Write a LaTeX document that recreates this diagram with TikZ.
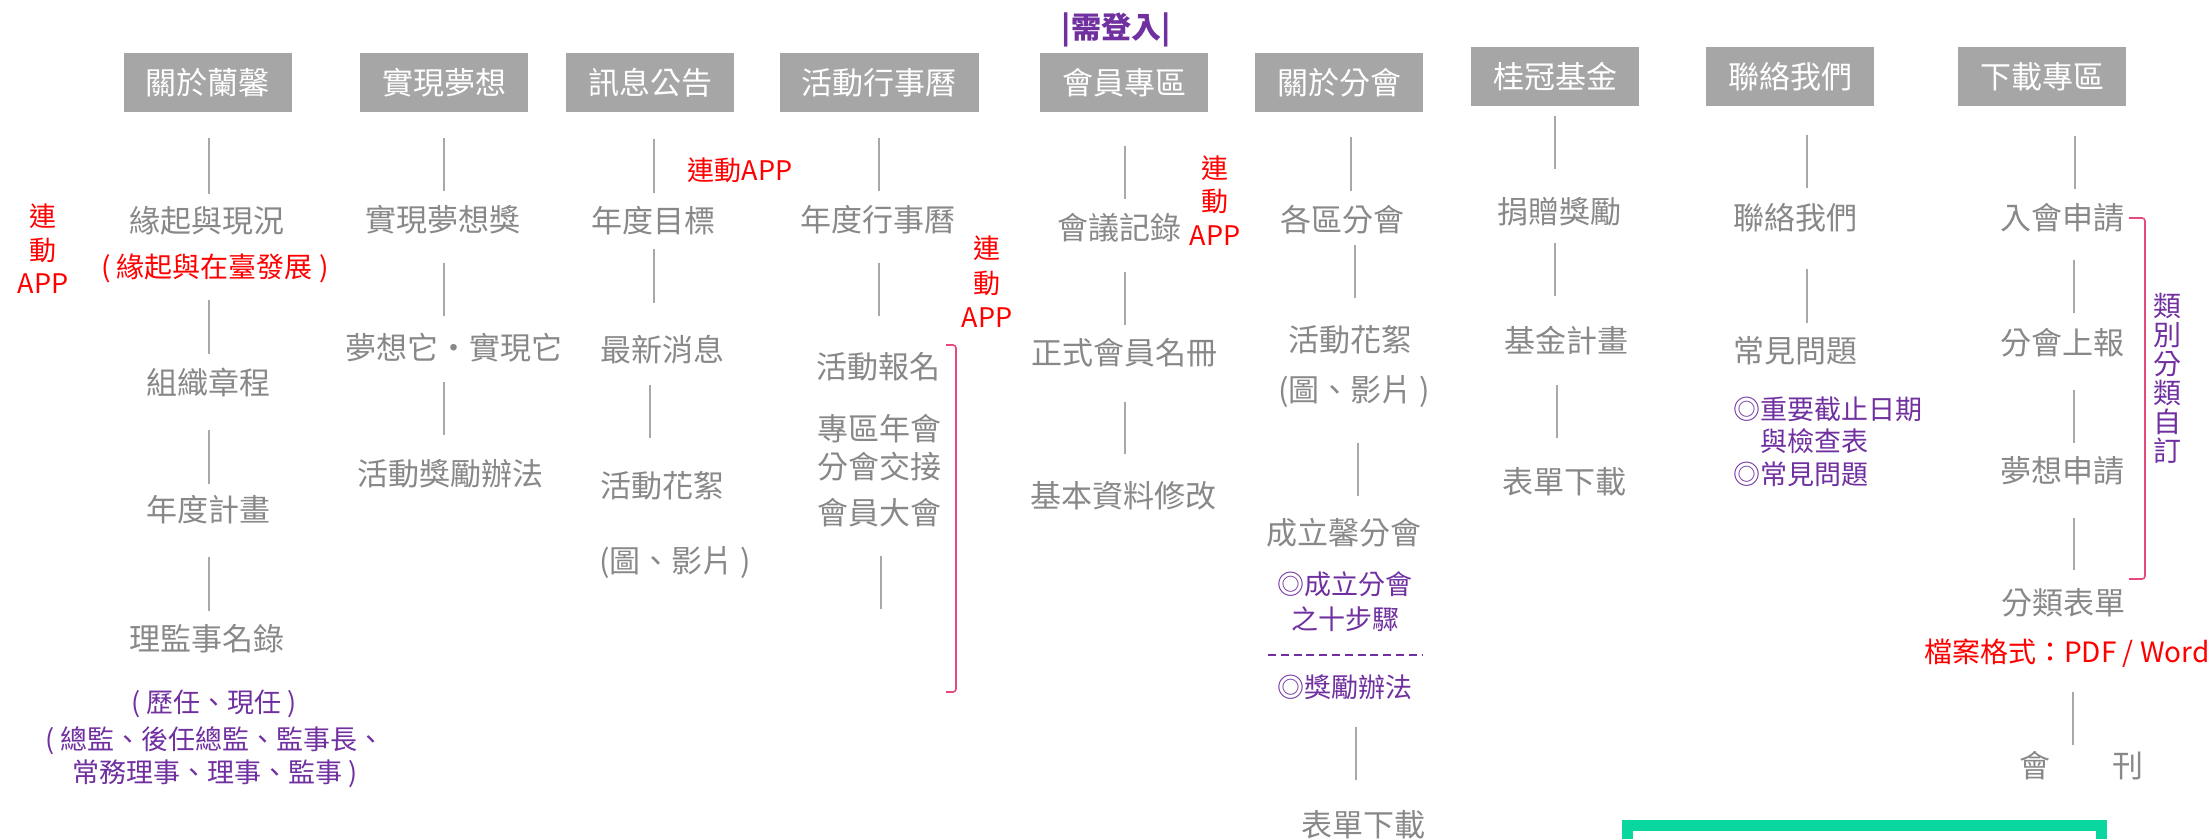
\documentclass[tikz,border=0pt]{standalone}
\usepackage{fontspec}
\setmainfont{Noto Sans CJK TC}
\definecolor{boxgray}{HTML}{A6A6A6}
\definecolor{textgray}{HTML}{888888}
\definecolor{stemgray}{HTML}{A8A8A8}
\definecolor{notered}{HTML}{FF0000}
\definecolor{notepurple}{HTML}{7030A0}
\definecolor{bracketpink}{HTML}{E6497A}
\definecolor{framegreen}{HTML}{0AD6A0}
\tikzset{
  menubox/.style={fill=boxgray, text=white, inner xsep=11pt, inner ysep=0pt,
    minimum height=29.5pt, font=\fontsize{15.5}{18}\selectfont},
  item/.style={text=textgray, inner sep=0pt, font=\fontsize{15.5}{18}\selectfont},
  redtext/.style={text=notered, inner sep=0pt, font=\fontsize{13.5}{16.75}\selectfont},
  purpletext/.style={text=notepurple, inner sep=0pt, font=\fontsize{13.5}{16.5}\selectfont},
  logintag/.style={text=notepurple, inner sep=0pt, font=\fontsize{15}{18}\selectfont\bfseries},
  stem/.style={draw=stemgray, line width=0.8pt},
  bracket/.style={draw=bracketpink, line width=0.8pt, rounded corners=1.5pt},
  purpledash/.style={draw=notepurple, line width=1pt, dash pattern=on 4pt off 2.4pt},
  greenframe/.style={draw=framegreen, line width=5.5pt}
}
\begin{document}
\begin{tikzpicture}[x=0.5pt,y=-0.5pt]
\fill[white] (0,0) rectangle (2208,839);
\useasboundingbox (0,0) rectangle (2208,839);

% top menu
\node[menubox] (about) at (207.5,82.5) {關於蘭馨};
\node[menubox] (dream) at (444,82.5) {實現夢想};
\node[menubox] (news) at (650,82.5) {訊息公告};
\node[menubox] (calendar) at (879,82.5) {活動行事曆};
\node[menubox] (member) at (1124,82.5) {會員專區};
\node[menubox] (club) at (1339,82.5) {關於分會};
\node[menubox] (fund) at (1555,76.5) {桂冠基金};
\node[menubox] (contact) at (1790,76.5) {聯絡我們};
\node[menubox] (download) at (2042,76.5) {下載專區};
\node[logintag] (login) at (1116,30) {|需登入|};

% stems
\foreach \x/\a/\b in {209/138/194, 209/300/354, 209/430/484, 209/557/611,
    444/138/191, 444/263/316, 444/382/435,
    654/139/193, 654/249/303, 650/385/438,
    879/138/191, 879/263/316, 881/556/609,
    1125/146/199, 1125/272/325, 1125/402/454,
    1351/137/191, 1355/245/298, 1358/443/496, 1356/727/780,
    1555/116/169, 1555/243/296, 1557/385/438,
    1807/135/188, 1807/269/323,
    2075/136/189, 2074/260/313, 2074/390/443, 2074/518/570, 2073/692/745}
  \draw[stem] (\x,\a) -- (\x,\b);

% about
\node[redtext, align=center] (applinkA) at (43,249) {連\\動\\APP};
\node[item] (origin) at (207,221) {緣起與現況};
\node[redtext, font=\fontsize{14}{17}\selectfont] (originnote) at (215,268) {( 緣起與在臺發展 )};
\node[item] (charter) at (208,382) {組織章程};
\node[item] (plan) at (208,510) {年度計畫};
\node[item] (board) at (207,639) {理監事名錄};
\node[purpletext] (boardterm) at (214,704) {( 歷任、現任 )};
\node[purpletext, align=center] (boardrole) at (215,757) {( 總監、後任總監、監事長、\\常務理事、理事、監事 )};

% dream
\node[item] (award) at (443,220) {實現夢想獎};
\node[item] (slogan) at (454,348) {夢想它・實現它};
\node[item] (rules) at (450,474) {活動獎勵辦法};

% news
\node[redtext] (applinkB) at (740,170) {連動APP};
\node[item] (goal) at (653,221) {年度目標};
\node[item] (latest) at (662,350) {最新消息};
\node[item] (photos) at (662,486) {活動花絮};
\node[item] (media) at (675,563) {(圖、影片 )};

% calendar
\node[item] (yearcal) at (878,220) {年度行事曆};
\node[redtext, align=center, font=\fontsize{13.5}{17.25}\selectfont] (applinkC) at (987,282) {連\\動\\APP};
\node[item] (signup) at (878,367) {活動報名};
\node[item] (annual) at (879,429) {專區年會};
\node[item] (handover) at (879,467) {分會交接};
\node[item] (assembly) at (879,513) {會員大會};
\coordinate (eventtop) at (946,345);
\coordinate (eventbot) at (946,692);
\draw[bracket] (eventtop) -- ++(10,0) |- (eventbot);

% member
\node[item] (minutes) at (1119,228) {會議記錄};
\node[redtext, align=center] (applinkD) at (1215,200.5) {連\\動\\APP};
\node[item] (roster) at (1124,353) {正式會員名冊};
\node[item] (profile) at (1123,496) {基本資料修改};

% club
\node[item] (districts) at (1342,220) {各區分會};
\node[item] (clubphotos) at (1350,340) {活動花絮};
\node[item] (clubmedia) at (1354,392) {(圖、影片 )};
\node[item] (newclub) at (1344,533) {成立馨分會};
\node[purpletext, align=center, font=\fontsize{13.5}{17.5}\selectfont] (steps) at (1345,602) {◎成立分會\\之十步驟};
\coordinate (dashL) at (1268,655);
\coordinate (dashR) at (1422,655);
\draw[purpledash] (dashL) -- (dashR);
\node[purpletext] (clubrules) at (1345,687) {◎獎勵辦法};
\node[item] (clubforms) at (1363,825) {表單下載};

% fund
\node[item] (donation) at (1559,212) {捐贈獎勵};
\node[item] (fundplan) at (1566,341) {基金計畫};
\node[item] (fundforms) at (1564,482) {表單下載};

% contact
\node[item] (contactus) at (1795,218) {聯絡我們};
\node[item] (faq) at (1795,351) {常見問題};
\node[purpletext, anchor=west] (deadline) at (1733,409) {◎重要截止日期};
\node[purpletext, anchor=west] (checklist) at (1760,441) {與檢查表};
\node[purpletext, anchor=west] (faqlist) at (1733,474) {◎常見問題};

% download
\node[item] (join) at (2062,218) {入會申請};
\node[item] (report) at (2062,343) {分會上報};
\node[item] (apply) at (2062,471) {夢想申請};
\node[item] (forms) at (2063,603) {分類表單};
\node[redtext, anchor=east, font=\fontsize{14}{17}\selectfont] (format) at (2210,653) {檔案格式：PDF / Word};
\node[item] (journal) at (2081,766) {會　　刊};
\coordinate (formtop) at (2129,218);
\coordinate (formbot) at (2129,579);
\draw[bracket] (formtop) -- ++(16,0) |- (formbot);
\node[purpletext, align=center, font=\fontsize{14}{14.5}\selectfont] (category) at (2167,378.5) {類\\別\\分\\類\\自\\訂};

% frame at the bottom
\draw[greenframe] (1627.5,850) -- (1627.5,825.5) -- (2101.5,825.5) -- (2101.5,850);
\end{tikzpicture}
\end{document}
